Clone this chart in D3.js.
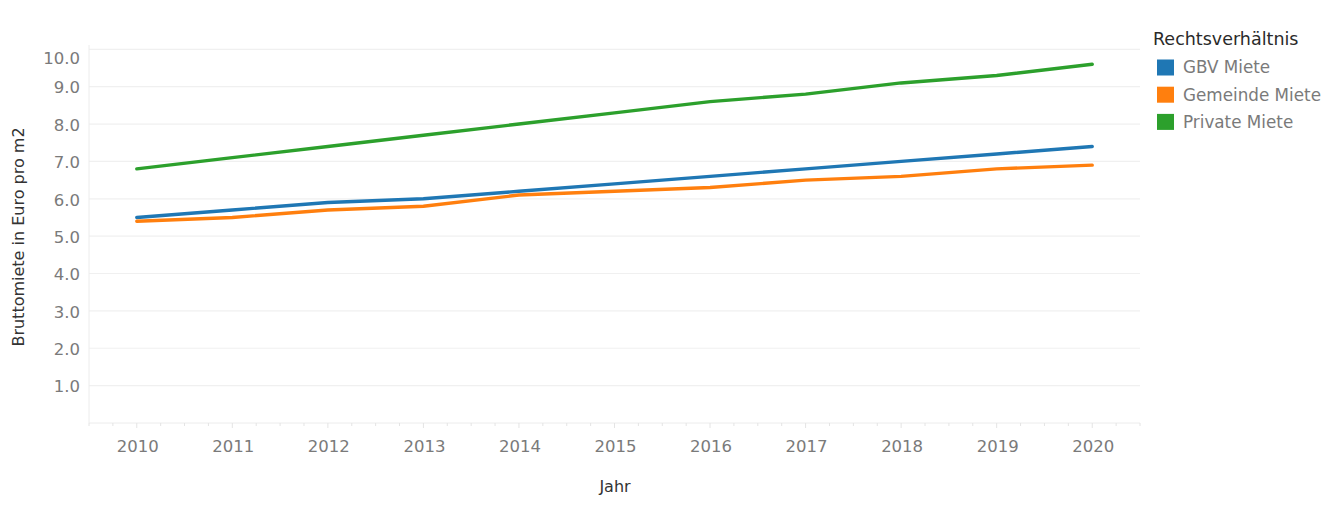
<!DOCTYPE html>
<html><head><meta charset="utf-8">
<script src="https://cdn.jsdelivr.net/npm/d3@7"></script>
<style>html,body{margin:0;padding:0;background:#fff;}svg{display:block;font-family:"DejaVu Sans",sans-serif;}</style>
</head><body><svg id="c" width="1344" height="508"></svg>
<script>
const years = [2010,2011,2012,2013,2014,2015,2016,2017,2018,2019,2020];
const seriesNames = ["GBV Miete","Gemeinde Miete","Private Miete"];
const seriesColors = ["#1f77b4","#ff7f0e","#2ca02c"];
const gbv = [5.5,5.7,5.9,6.0,6.2,6.4,6.6,6.8,7.0,7.2,7.4];
const gemeinde = [5.4,5.5,5.7,5.8,6.1,6.2,6.3,6.5,6.6,6.8,6.9];
const privat = [6.8,7.1,7.4,7.7,8.0,8.3,8.6,8.8,9.1,9.3,9.6];
const yTicks = [1,2,3,4,5,6,7,8,9,10];
const legendTitle = "Rechtsverhältnis";
const xTitle = "Jahr";
const yTitle = "Bruttomiete in Euro pro m2";

const svg = d3.select("#c");
const L=89, R=1140, T=45, B=423;
const x = d3.scaleLinear().domain([2009.5,2020.5]).range([L,R]);
const y = d3.scaleLinear().domain([0,10]).range([B,49.3]);

// gridlines
svg.append("g").selectAll("line").data(yTicks).join("line")
  .attr("x1",L).attr("x2",R).attr("y1",d=>y(d)).attr("y2",d=>y(d))
  .attr("stroke","#f0f0f0").attr("stroke-width",1.2);
// axes frame
svg.append("line").attr("x1",L).attr("x2",L).attr("y1",T).attr("y2",B).attr("stroke","#ececec");
svg.append("line").attr("x1",L).attr("x2",R).attr("y1",B).attr("y2",B).attr("stroke","#ececec");

// y axis labels
svg.append("g").selectAll("text").data(yTicks).join("text")
  .attr("x",L-9).attr("y",d=> d===10 ? y(d)+9 : y(d)+1)
  .attr("dy","0.35em").attr("text-anchor","end")
  .attr("fill","#7a7a7a").attr("font-size",16.5).text(d=>d3.format(".1f")(d));

// x ticks (minor every quarter)
const minor = d3.range(2009.5,2020.51,0.25);
svg.append("g").selectAll("line").data(minor).join("line")
  .attr("x1",d=>x(d)).attr("x2",d=>x(d)).attr("y1",B).attr("y2",d=>Number.isInteger(d)?B+5:B+3)
  .attr("stroke","#e4e4e4");
svg.append("g").selectAll("text").data(years).join("text")
  .attr("x",d=>x(d)+1).attr("y",452).attr("text-anchor","middle")
  .attr("fill","#7a7a7a").attr("font-size",16.5).text(d=>d);

// axis titles
svg.append("text").attr("x",615).attr("y",492).attr("text-anchor","middle")
  .attr("fill","#333").attr("font-size",16).text(xTitle);
svg.append("text").attr("transform","translate(24,237) rotate(-90)").attr("text-anchor","middle")
  .attr("fill","#333").attr("font-size",16).text(yTitle);

// lines
const data = [gbv,gemeinde,privat];
const line = d3.line().x((d,i)=>x(years[i])).y(d=>y(d));
svg.append("g").selectAll("path").data(data).join("path")
  .attr("d",line).attr("fill","none")
  .attr("stroke",(d,i)=>seriesColors[i]).attr("stroke-width",3.4)
  .attr("stroke-linejoin","round").attr("stroke-linecap","round");

// legend
svg.append("text").attr("x",1153).attr("y",45).attr("fill","#2a2a2a")
  .attr("font-size",17.5).text(legendTitle);
const lg = svg.append("g").selectAll("g").data(seriesNames).join("g")
  .attr("transform",(d,i)=>`translate(1157,${59.5+i*27.2})`);
lg.append("rect").attr("width",17).attr("height",16).attr("fill",(d,i)=>seriesColors[i]);
lg.append("text").attr("x",26).attr("y",8).attr("dy","0.35em")
  .attr("fill","#7a7a7a").attr("font-size",16.8).text(d=>d);
</script></body></html>
